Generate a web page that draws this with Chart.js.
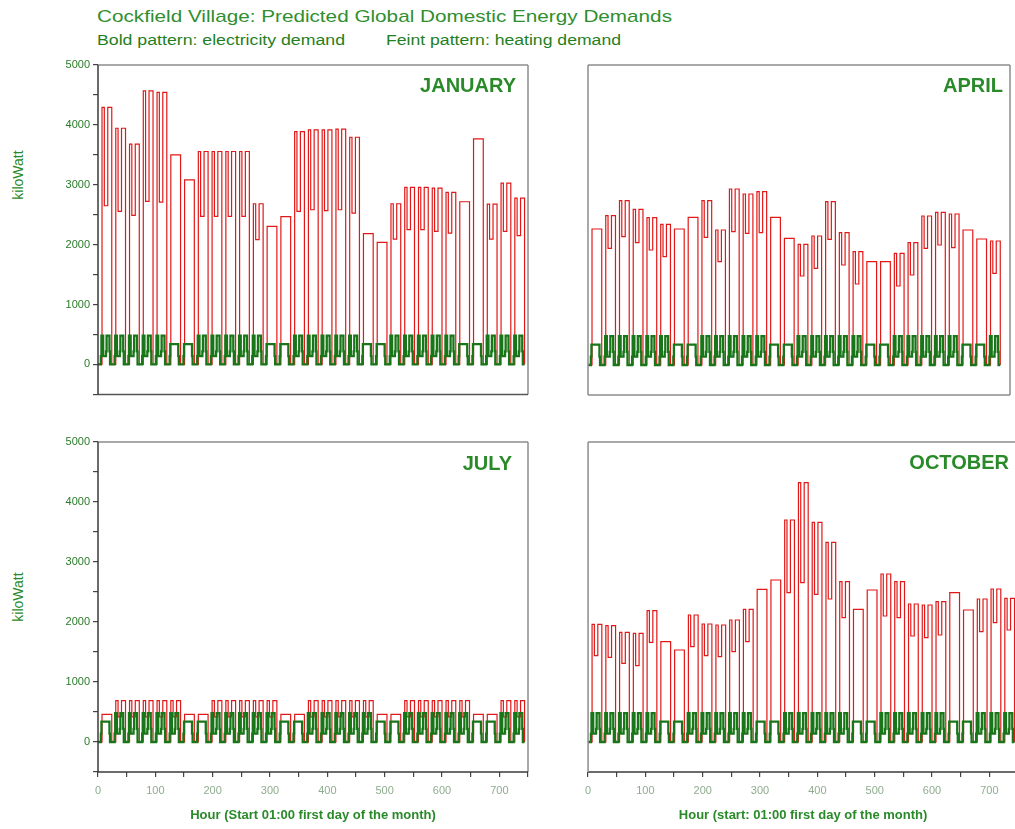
<!DOCTYPE html>
<html>
<head>
<meta charset="utf-8">
<title>Cockfield Village: Predicted Global Domestic Energy Demands</title>
<script src="https://cdn.jsdelivr.net/npm/chart.js@4.4.1/dist/chart.umd.min.js"></script>
<style>
  html, body { margin: 0; padding: 0; background: #fff; }
  body { width: 1015px; height: 829px; overflow: hidden; position: relative;
         font-family: "Liberation Sans", Arial, sans-serif; }
  canvas { position: absolute; }
  .txt { position: absolute; white-space: nowrap; transform-origin: 0 0; line-height: 1; }
  .ylab { position: absolute; white-space: nowrap; font-size: 14px; color: #2a8a2a; line-height: 1;
          transform: translate(-50%, -50%) rotate(-90deg); }
</style>
</head>
<body>
<div class="txt" id="title" style="left:97px;top:8px;font-size:17px;color:#2f8f2f;">Cockfield Village: Predicted Global Domestic Energy Demands</div>
<div class="txt" id="sub1" style="left:97px;top:33px;font-size:14px;color:#1f801f;">Bold pattern: electricity demand</div>
<div class="txt" id="sub2" style="left:386px;top:33px;font-size:14px;color:#1f801f;">Feint pattern: heating demand</div>
<div class="ylab" style="left:18px;top:175px;">kiloWatt</div>
<div class="ylab" style="left:18px;top:597px;">kiloWatt</div>

<canvas id="cJan"></canvas>
<canvas id="cApr"></canvas>
<canvas id="cJul"></canvas>
<canvas id="cOct"></canvas>

<script>
// Daily heating levels (kW): peak = morning/evening level, dip = daytime level.
// A null dip marks a weekend day, when the heating runs at one flat level.
const janPeak = [4294, 3944, 3678, 4567, 4544, 3500, 3083, 3556, 3556, 3556, 3556, 2683, 2306, 2467, 3889, 3917,
                 3917, 3928, 3794, 2183, 2039, 2683, 2956, 2956, 2944, 2872, 2717, 3767, 2678, 3028, 2778];
const janDip  = [2650, 2555, 2489, 2722, 2711, null, null, 2472, 2472, 2472, 2472, 2083, null, null, 2556, 2583,
                 2567, 2583, 2528, null, null, 2094, 2250, 2250, 2222, 2194, null, null, 2094, 2222, 2150];

const aprPeak = [2267, 2489, 2739, 2594, 2456, 2344, 2267, 2461, 2739, 2250, 2933, 2850, 2889, 2461, 2111,
                 2011, 2150, 2722, 2206, 1889, 1722, 1722, 1861, 2039, 2483, 2544, 2517, 2250, 2100, 2067];
const aprDip  = [null, 1944, 2139, 2039, 1917, 1806, null, null, 2128, 1722, 2222, 2194, 2206, null, null,
                 1483, 1611, 2094, 1667, 1350, null, null, 1317, 1500, 1944, 2000, 1956, null, null, 1528];

const julPeak = [461, 688, 688, 688, 688, 688, 461, 461, 688, 688, 688, 688, 688, 461, 461, 688,
                 688, 688, 688, 688, 461, 461, 688, 688, 688, 688, 688, 461, 461, 688, 688];
const julDip  = [null, 420, 420, 420, 420, 420, null, null, 420, 420, 420, 420, 420, null, null, 420,
                 420, 420, 420, 420, null, null, 420, 420, 420, 420, 420, null, null, 420, 420];

const octPeak = [1961, 1939, 1828, 1811, 2189, 1672, 1533, 2117, 1967, 1950, 2033, 2211, 2544, 2700, 3700, 4322,
                 3661, 3328, 2672, 2211, 2533, 2800, 2672, 2300, 2283, 2339, 2489, 2200, 2383, 2550, 2394];
const octDip  = [1439, 1411, 1311, 1272, 1661, null, null, 1589, 1439, 1422, 1506, 1672, null, null, 2489, 2656,
                 2461, 2383, 2072, null, null, 2100, 2072, 1767, 1739, 1783, null, null, 1839, 1989, 1867];

// Hour-of-day heating state (hour 0 = 01:00): 0 off, 1 peak level, 2 daytime level.
const heatShape = [0, 0, 0, 0, 0, 0, 0, 1, 1, 1, 1, 2, 2, 2, 2, 2, 2, 1, 1, 1, 1, 1, 1, 1];

// Hour-of-day electricity demand (kW).
const elecWeekday = [0, 0, 0, 0, 0, 140, 480, 480, 480, 140, 140, 140, 140, 140, 220, 480, 480, 480, 480, 480, 220, 0, 0, 0];
const elecWeekend = [0, 0, 0, 0, 0, 140, 340, 340, 340, 340, 340, 340, 340, 340, 340, 340, 340, 340, 340, 340, 140, 0, 0, 0];

// Axis ticks
const yTicks = { min: -500, max: 5000, step: 500, labelEvery: 1000 };
const xTicks = { min: 0, step: 50, labelEvery: 100 };

const HEAT_COLOR = 'rgb(226, 24, 24)';
const ELEC_COLOR = 'rgb(24, 118, 24)';
const GREEN_TEXT = '#2a8a2a';
const FONT = '"Liberation Sans", Arial, sans-serif';

// Expand the daily levels into an hourly stepped series.
function hourlySeries(peak, dip) {
  const heat = [], elec = [];
  peak.forEach((p, d) => {
    const weekend = dip[d] === null;
    const prof = weekend ? elecWeekend : elecWeekday;
    for (let h = 0; h < 24; h++) {
      const s = heatShape[h];
      heat.push({ x: d * 24 + h, y: s === 0 ? 0 : (s === 2 && !weekend ? dip[d] : p) });
      elec.push({ x: d * 24 + h, y: prof[h] });
    }
  });
  const end = peak.length * 24;
  heat.push({ x: end, y: 0 });
  elec.push({ x: end, y: elec[elec.length - 1].y });
  return { heat, elec };
}

// Panel frame and month caption
const framePlugin = {
  id: 'frame',
  afterDatasetsDraw(chart, args, o) {
    const { left, right, top, bottom } = chart.chartArea;
    const ctx = chart.ctx;
    ctx.save();
    ctx.lineWidth = 1.5;
    const seg = (x1, y1, x2, y2, c) => {
      ctx.strokeStyle = c; ctx.beginPath(); ctx.moveTo(x1, y1); ctx.lineTo(x2, y2); ctx.stroke();
    };
    seg(left, top, right, top, o.top);
    seg(right, top, right, bottom, o.right);
    seg(left, bottom, right, bottom, o.bottom);
    seg(left, top, left, bottom, o.left);
    ctx.font = 'bold 20px ' + FONT;
    ctx.fillStyle = GREEN_TEXT;
    ctx.textAlign = 'right';
    ctx.textBaseline = 'alphabetic';
    ctx.fillText(o.label, right - o.labelDx, top + o.labelDy);
    ctx.restore();
  }
};

function chartConfig(cfg, series) {
  return {
    type: 'line',
    data: {
      datasets: [
        { label: 'Electricity demand', data: series.elec, borderColor: ELEC_COLOR, borderWidth: 2.3,
          stepped: true, pointRadius: 0, fill: false },
        { label: 'Heating demand', data: series.heat, borderColor: HEAT_COLOR, borderWidth: 1.2,
          stepped: true, pointRadius: 0, fill: false }
      ]
    },
    options: {
      responsive: false,
      animation: false,
      events: [],
      parsing: false,
      layout: { padding: cfg.pad },
      plugins: {
        legend: { display: false },
        tooltip: { enabled: false },
        frame: cfg.frame
      },
      scales: {
        x: {
          type: 'linear',
          min: xTicks.min,
          max: cfg.xMax,
          display: cfg.showX,
          afterFit: s => { s.height = cfg.showX ? 55 : 0; },
          border: { display: false },
          grid: { drawOnChartArea: false, drawTicks: true, tickLength: 5, color: '#444', lineWidth: 1.2 },
          ticks: {
            stepSize: xTicks.step, autoSkip: false, maxRotation: 0, padding: 7,
            color: '#8fac8f', font: { size: 11, family: FONT },
            callback: v => (v % xTicks.labelEvery === 0 ? String(v) : '')
          },
          title: {
            display: true, text: cfg.xTitle, color: GREEN_TEXT,
            font: { size: 13, weight: 'bold', family: FONT },
            padding: { top: 0, bottom: 4 }
          }
        },
        y: {
          min: yTicks.min,
          max: yTicks.max,
          display: cfg.showY,
          afterFit: s => { s.width = cfg.showY ? 98 : 0; },
          border: { display: false },
          grid: { drawOnChartArea: false, drawTicks: true, tickLength: 5, color: '#444', lineWidth: 1.2 },
          ticks: {
            stepSize: yTicks.step, autoSkip: false, padding: 3,
            color: '#2a7a2a', font: { size: 11, family: FONT },
            callback: v => (v % yTicks.labelEvery === 0 ? String(v) : '')
          }
        }
      }
    },
    plugins: [framePlugin]
  };
}

// Build a panel so that its plot area lands on the given page rectangle.
function panel(cfg) {
  const series = hourlySeries(cfg.peak, cfg.dip);
  const canvas = document.getElementById(cfg.id);
  const a = cfg.area;
  let w = a.r - a.l + 120, h = a.b - a.t + 80;
  canvas.width = w; canvas.height = h;
  let chart = new Chart(canvas, chartConfig(cfg, series));
  const ca = chart.chartArea;
  const offL = ca.left, offT = ca.top;
  w += (a.r - a.l) - (ca.right - ca.left);
  h += (a.b - a.t) - (ca.bottom - ca.top);
  chart.destroy();
  canvas.width = w; canvas.height = h;
  canvas.style.left = (a.l - offL) + 'px';
  canvas.style.top = (a.t - offT) + 'px';
  chart = new Chart(canvas, chartConfig(cfg, series));
  return chart;
}

const DARK = '#3a3a3a', GREY = '#8c8c8c';

panel({ id: 'cJan', peak: janPeak, dip: janDip, area: { l: 98, t: 65, r: 528, b: 395 }, xMax: 750,
        pad: { top: 15, right: 5, bottom: 8, left: 0 }, showX: false, showY: true, xTitle: '',
        frame: { top: GREY, right: GREY, bottom: '#555', left: DARK, label: 'JANUARY', labelDx: 12, labelDy: 27 } });

panel({ id: 'cApr', peak: aprPeak, dip: aprDip, area: { l: 588, t: 65, r: 1010, b: 395 }, xMax: 737,
        pad: { top: 15, right: 5, bottom: 8, left: 10 }, showX: false, showY: false, xTitle: '',
        frame: { top: GREY, right: GREY, bottom: GREY, left: GREY, label: 'APRIL', labelDx: 7, labelDy: 27 } });

panel({ id: 'cJul', peak: julPeak, dip: julDip, area: { l: 98, t: 442, r: 528, b: 772 }, xMax: 750,
        pad: { top: 10, right: 5, bottom: 0, left: 0 }, showX: true, showY: true,
        xTitle: 'Hour (Start 01:00 first day of the month)',
        frame: { top: GREY, right: GREY, bottom: DARK, left: DARK, label: 'JULY', labelDx: 16, labelDy: 28 } });

panel({ id: 'cOct', peak: octPeak, dip: octDip, area: { l: 588, t: 442, r: 1018, b: 772 }, xMax: 750,
        pad: { top: 10, right: 5, bottom: 0, left: 10 }, showX: true, showY: false,
        xTitle: 'Hour (start: 01:00 first day of the month)',
        frame: { top: GREY, right: GREY, bottom: DARK, left: GREY, label: 'OCTOBER', labelDx: 9, labelDy: 27 } });

// Stretch heading lines to their set widths
function fitWidth(id, target) {
  const el = document.getElementById(id);
  const w = el.getBoundingClientRect().width;
  el.style.transform = 'scaleX(' + (target / w) + ')';
}
fitWidth('title', 575);
fitWidth('sub1', 248);
fitWidth('sub2', 235);
</script>
</body>
</html>
